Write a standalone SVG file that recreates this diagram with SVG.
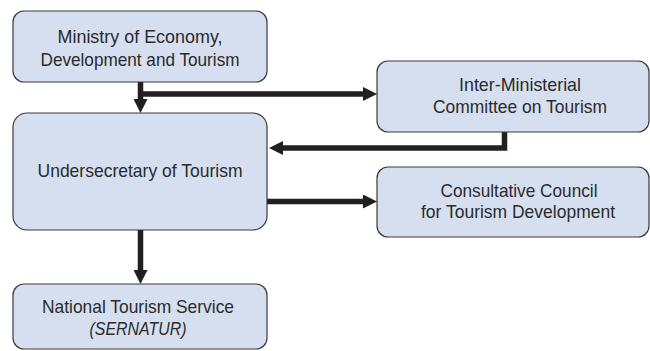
<svg xmlns="http://www.w3.org/2000/svg" width="650" height="351" viewBox="0 0 650 351">
<defs>
<style>
.box{fill:#d6dff0;stroke:#3a3a3a;stroke-width:1.2}
.t{font-family:"Liberation Sans Narrow","Liberation Sans",Arial,sans-serif;font-size:19px;fill:#2b2b2b;text-anchor:middle}
.it{font-style:italic}
.c{fill:none;stroke:#231f20;stroke-width:5.5;stroke-linejoin:miter}
</style>
<marker id="ah" markerUnits="userSpaceOnUse" markerWidth="14" markerHeight="14" refX="6" refY="7" orient="auto" viewBox="0 0 14 14">
<path d="M0,0 L14,7 L0,14 z" fill="#231f20"/>
</marker>
</defs>
<rect width="650" height="351" fill="#ffffff"/>
<g id="connectors">
<path class="c" d="M140.5,82 V105" marker-end="url(#ah)"/>
<path class="c" d="M140.5,94 H369" marker-end="url(#ah)"/>
<path class="c" d="M504.5,132 V148 H277" marker-end="url(#ah)"/>
<path class="c" d="M267,201.5 H369" marker-end="url(#ah)"/>
<path class="c" d="M140.5,230 V276" marker-end="url(#ah)"/>
</g>
<g id="ministry">
<rect class="box" x="13" y="11" width="254" height="71" rx="11"/>
<text class="t" x="140" y="42.7" textLength="165" lengthAdjust="spacingAndGlyphs">Ministry of Economy,</text>
<text class="t" x="140" y="66" textLength="199" lengthAdjust="spacingAndGlyphs">Development and Tourism</text>
</g>
<g id="undersecretary">
<rect class="box" x="13" y="113" width="254" height="117" rx="14"/>
<text class="t" x="140" y="176.7" textLength="205" lengthAdjust="spacingAndGlyphs">Undersecretary of Tourism</text>
</g>
<g id="sernatur">
<rect class="box" x="13" y="284" width="254" height="65" rx="11"/>
<text class="t" x="138" y="313.3" textLength="192" lengthAdjust="spacingAndGlyphs">National Tourism Service</text>
<text class="t it" x="138" y="335" textLength="97" lengthAdjust="spacingAndGlyphs">(SERNATUR)</text>
</g>
<g id="committee">
<rect class="box" x="377" y="61" width="272" height="71" rx="11"/>
<text class="t" x="520" y="90.7" textLength="122" lengthAdjust="spacingAndGlyphs">Inter-Ministerial</text>
<text class="t" x="520" y="113.3" textLength="174" lengthAdjust="spacingAndGlyphs">Committee on Tourism</text>
</g>
<g id="council">
<rect class="box" x="377" y="167" width="272" height="70" rx="11"/>
<text class="t" x="519" y="196.7" textLength="157" lengthAdjust="spacingAndGlyphs">Consultative Council</text>
<text class="t" x="518" y="218.3" textLength="194" lengthAdjust="spacingAndGlyphs">for Tourism Development</text>
</g>
</svg>
